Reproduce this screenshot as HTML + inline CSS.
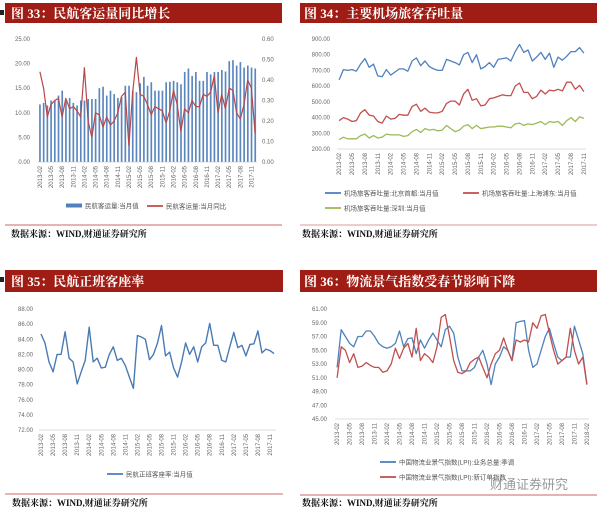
<!DOCTYPE html>
<html><head><meta charset="utf-8"><style>
body{margin:0;background:#fff;width:600px;height:509px;overflow:hidden}
svg{display:block}
.t{font-family:"Liberation Serif","Noto Serif CJK SC",serif;font-weight:bold;fill:#fff;font-size:13px}
.ax{font-family:"Liberation Sans","Noto Sans CJK SC",sans-serif;font-size:6px;fill:#666}
.lg{font-family:"Liberation Sans","Noto Sans CJK SC",sans-serif;font-size:6.5px;fill:#555}
.src{font-family:"Liberation Serif","Noto Serif CJK SC",serif;font-weight:bold;font-size:9px;fill:#111}
</style></head><body>
<svg id="s" width="600" height="509" viewBox="0 0 600 509" xmlns="http://www.w3.org/2000/svg">
<g>
<rect x="0" y="10" width="4" height="5" fill="#222"/>
<rect x="5" y="3" width="277" height="20" fill="#9f1d14"/>
<text class="t" x="11" y="18">图 33：民航客运量同比增长</text></g>
<g>
<rect x="300" y="3" width="297" height="20" fill="#9f1d14"/>
<text class="t" x="304" y="18">图 34：主要机场旅客吞吐量</text></g>
<g>
<rect x="0" y="277" width="4" height="5" fill="#222"/>
<rect x="5" y="270" width="278" height="22" fill="#9f1d14"/>
<text class="t" x="11" y="286">图 35：民航正班客座率</text></g>
<g>
<rect x="300" y="270" width="297" height="22" fill="#9f1d14"/>
<text class="t" x="304" y="286">图 36：物流景气指数受春节影响下降</text></g>
<line x1="5" y1="225" x2="282" y2="225" stroke="#b33" stroke-width="0.8"/>
<line x1="300" y1="225" x2="597" y2="225" stroke="#b33" stroke-width="0.5"/>
<line x1="5" y1="494" x2="283" y2="494" stroke="#b33" stroke-width="0.8"/>
<line x1="300" y1="495" x2="597" y2="495" stroke="#b33" stroke-width="0.8"/>
<text class="src" x="11" y="237">数据来源：WIND,财通证券研究所</text>
<text class="src" x="302" y="237">数据来源：WIND,财通证券研究所</text>
<text class="src" x="12" y="506">数据来源：WIND,财通证券研究所</text>
<text class="src" x="302" y="506">数据来源：WIND,财通证券研究所</text>
<text x="490" y="489" font-family="Liberation Sans,Noto Sans CJK SC,sans-serif" font-size="13" fill="#999">财通证券研究</text>
</svg>
<script>
const c1Bars=[11.7,12,11.5,12.5,12.5,13.5,14.5,12.5,13,12,11.5,12.5,12.5,12.8,12.8,12.8,15,15.3,13.5,14.5,13.8,13,13.2,15.5,15.5,14.5,14.2,16,17.3,15.5,16.2,14.5,14.5,14.5,16.2,16.3,16.5,16.2,15.8,18.3,19,17.5,18.3,16.5,16.5,18.3,17.8,18.3,18.3,18.7,18.4,20.5,20.7,19.6,20.3,19.2,19.6,19.2,19];
const c1Line=[0.44,0.36,0.22,0.28,0.30,0.31,0.22,0.31,0.26,0.27,0.25,0.22,0.46,0.20,0.12,0.24,0.23,0.17,0.22,0.18,0.20,0.24,0.32,0.34,0.08,0.34,0.51,0.33,0.32,0.28,0.23,0.27,0.26,0.25,0.19,0.25,0.35,0.28,0.15,0.26,0.24,0.30,0.27,0.27,0.33,0.32,0.34,0.42,0.24,0.33,0.26,0.36,0.35,0.24,0.21,0.28,0.40,0.36,0.14];
const c2Bj=[640,705,700,705,695,740,775,720,740,665,660,705,670,690,710,710,695,760,780,730,760,725,710,700,700,770,760,750,735,800,815,750,800,710,725,750,720,770,775,780,760,820,865,815,830,760,785,815,770,810,720,785,765,790,820,820,845,810];
const c2Sh=[380,400,390,375,380,430,450,415,410,375,365,410,390,395,420,415,415,470,485,440,460,435,430,430,440,490,505,505,480,550,580,510,520,475,480,520,525,535,545,540,540,600,620,560,560,520,535,575,550,575,570,580,570,625,625,580,605,565];
const c2Sz=[260,275,265,265,265,285,295,270,285,270,275,295,290,290,290,280,285,310,325,305,330,320,325,315,320,350,330,310,320,345,355,330,350,330,335,340,340,345,345,340,335,360,365,350,360,355,365,375,355,375,370,375,350,380,400,375,405,395];
const c3Vals=[84.7,83.5,81,79.7,82,82,85,81.5,81,78.1,79.7,81.2,85.6,81,81.5,80.2,80.3,82,83,81.2,81.5,80.5,79,77.5,84.5,84.3,84,81.3,82,83.5,85.8,81.8,82.3,80.2,79,81,83.5,82,83,81,83,83.5,86.1,83.2,83.2,81.2,81,83,84.9,82.9,83.2,81.8,83.3,83.4,85.1,82.2,82.7,82.5,82.1];
const c4Total=[52.5,58,57,56,55.5,57,57,57.8,57.8,57,56,55.5,55.3,55.5,56,57.8,55.5,56.7,56.8,54.5,56.5,55.3,56.5,57.5,56.5,55.5,58,58.5,57.5,54,52,52,52,52.5,54,55,53,50,53,54,55.5,55,53.5,59,59.2,59.3,55,52.5,53,55,57,58.2,56,54,53.5,54,54,58.5,56.5,54.5,50];
const c4Order=[51,55.5,55,53.2,54.5,52.5,52.7,53.2,52.8,52.5,52.5,51.8,52,53,55.3,53.8,55.3,56,54,58.2,53.5,54.5,54,53.2,55.5,59.8,60.2,57,53.5,51.8,51.6,52,53.2,53.7,54,52.5,51,53,54.5,55,56.8,55,53.5,56.5,56.2,56.5,56.2,59,58.2,60,60.2,57.5,55,53,53.5,54,58.2,55,53,54,50];
const labels20=[];for(let y=2013;y<=2017;y++)for(const m of ['02','05','08','11'])labels20.push(y+'-'+m);
const labels21=labels20.concat(['2018-02']);
const c1LeftTicks=[0,5,10,15,20,25],c1RightTicks=[0,0.1,0.2,0.3,0.4,0.5,0.6];
const c2Ticks=[200,300,400,500,600,700,800,900];
const c3Ticks=[72,74,76,78,80,82,84,86,88];
const c4Ticks=[45,47,49,51,53,55,57,59,61];
const S=document.getElementById('s'),NS='http://www.w3.org/2000/svg';
function mk(t,a,p){const e=document.createElementNS(NS,t);for(const k in a)e.setAttribute(k,a[k]);(p||S).appendChild(e);return e;}
function axis(x0,x1,y0,y1,min,max){return{sy:v=>y1-(v-min)/(max-min)*(y1-y0),x0,x1,y0,y1};}
function yTicks(ax,ticks,min,max,x,anchor,dec){for(const t of ticks){const e=mk('text',{class:'ax',x:x,y:ax.y1-(t-min)/(max-min)*(ax.y1-ax.y0)+2,'text-anchor':anchor});e.textContent=t.toFixed(dec);

}}
function xLabels(ax,n,labels,y){const st=(ax.x1-ax.x0)/n;labels.forEach((l,i)=>{const x=ax.x0+(i*3+0.5)*st+2;const e=mk('text',{class:'ax',transform:`translate(${x},${y}) rotate(-90)`,'text-anchor':'end'});e.textContent=l;

});
const b=mk('line',{x1:ax.x0,x2:ax.x1,y1:ax.y1,y2:ax.y1,stroke:'#bbb','stroke-width':0.6});

}
function line(ax,vals,n,min,max,color,name,w){const st=(ax.x1-ax.x0)/n;const pts=vals.map((v,i)=>(ax.x0+(i+0.5)*st).toFixed(1)+','+(ax.y1-(v-min)/(max-min)*(ax.y1-ax.y0)).toFixed(1)).join(' ');const p=mk('polyline',{points:pts,fill:'none',stroke:color,'stroke-width':w||1.3,'stroke-linejoin':'round'});

}
function legLine(x,y,color,txt,name){mk('line',{x1:x,x2:x+16,y1:y,y2:y,stroke:color,'stroke-width':1.8});const t=mk('text',{class:'lg',x:x+19,y:y+2.3});t.textContent=txt;

}
// chart 1
{const a=axis(38,257,39,162,0,25),n=c1Bars.length,st=(a.x1-a.x0)/n;
yTicks(a,c1LeftTicks,0,25,30,'end',2);yTicks(a,c1RightTicks,0,0.6,262,'start',2);
c1Bars.forEach((v,i)=>{const r=mk('rect',{x:a.x0+i*st+st*0.3,y:a.sy(v),width:st*0.45,height:a.y1-a.sy(v),fill:'#5b87bd'});

});
xLabels(a,n,labels20,166);
line(a,c1Line,c1Line.length,0,0.6,'#b8474a','line-yoy-growth',1.2);
mk('rect',{x:66,y:203.5,width:16,height:4,fill:'#4f81bd'});let t=mk('text',{class:'lg',x:85,y:208});t.textContent='民航客运量:当月值';


legLine(147,206,'#c0504d','民航客运量:当月同比','legend-yoy');}
// chart 2
{const a=axis(337,586,39,149,200,900),n=c2Bj.length;
yTicks(a,c2Ticks,200,900,330,'end',2);xLabels(a,n,labels20,153);
line(a,c2Bj,n,200,900,'#4f81bd','line-beijing');line(a,c2Sh,n,200,900,'#c0504d','line-shanghai');line(a,c2Sz,n,200,900,'#9bbb59','line-shenzhen');
legLine(325,193,'#4f81bd','机场旅客吞吐量:北京首都:当月值','legend-beijing');legLine(463,193,'#c0504d','机场旅客吞吐量:上海浦东:当月值','legend-shanghai');legLine(325,208,'#9bbb59','机场旅客吞吐量:深圳:当月值','legend-shenzhen');}
// chart 3
{const a=axis(39,276,309,430,72,88),n=c3Vals.length;
yTicks(a,c3Ticks,72,88,33,'end',2);xLabels(a,n,labels20,434);
line(a,c3Vals,n,72,88,'#4a7ab4','line-load-factor',1.4);
legLine(107,474,'#4f81bd','民航正班客座率:当月值','legend-load-factor');}
// chart 4
{const a=axis(335,589,309,419,45,61),n=c4Total.length;
yTicks(a,c4Ticks,45,61,327,'end',2);xLabels(a,n,labels21,423);
line(a,c4Total,n,45,61,'#4f81bd','line-lpi-total');line(a,c4Order,n,45,61,'#c0504d','line-lpi-orders');
legLine(380,462,'#4f81bd','中国物流业景气指数(LPI):业务总量:季调','legend-lpi-total');legLine(380,477,'#c0504d','中国物流业景气指数(LPI):新订单指数','legend-lpi-orders');}
</script>
</body></html>
